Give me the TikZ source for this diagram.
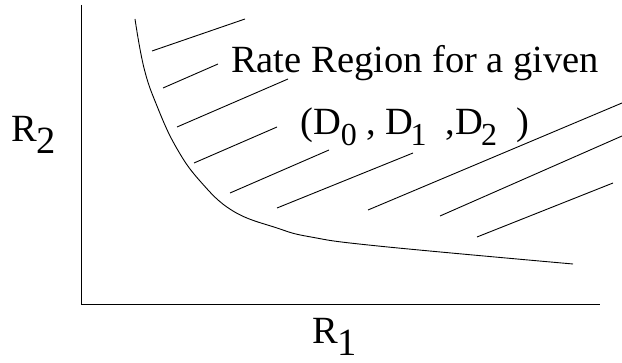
\documentclass[tikz,border=0pt]{standalone}
\usepackage{fontspec}
\setmainfont{Liberation Serif}
\usepackage{tikz}
\usetikzlibrary{positioning}
\newcommand{\lowidx}[1]{\raisebox{-11pt}{\fontsize{32}{32}\selectfont #1}}

\begin{document}
\begin{tikzpicture}[
  x=1pt, y=-1pt,
  axis/.style={line width=1pt},
  bound/.style={line width=0.9pt},
  hatch/.style={line width=0.9pt},
  lbl/.style={font=\fontsize{38.5}{42}\selectfont, anchor=base west, inner sep=0pt}]
\useasboundingbox (0,0) rectangle (622,363);
% ---- axes
\coordinate (ytop) at (81,5);
\coordinate (origin) at (81,305);
\coordinate (xend) at (600,305);
\draw[axis] (ytop) -- (origin) -- (xend);
\node[lbl] (rtwo) at (11,142) {R\raisebox{-12pt}{2}};
\node[lbl] (rone) at (312,344) {R\raisebox{-12pt}{1}};
% ---- boundary of the region
\draw[bound] plot[smooth, tension=0.7] coordinates {(135,19) (144,68) (157,106) (176,147) (200,181) (233,211) (277,228) (311,237) (378,246) (573,264)};
% ---- hatching
\draw[hatch] (152,51) -- (245,19);
\draw[hatch] (163,88) -- (218,64);
\draw[hatch] (177,127) -- (288,79);
\draw[hatch] (194,163) -- (277,127);
\draw[hatch] (230,193) -- (329,150);
\draw[hatch] (277,208) -- (413,153);
\draw[hatch] (368,210) -- (622,103);
\draw[hatch] (440,216) -- (622,136);
\draw[hatch] (477,237) -- (613,183);
% ---- label
\node[lbl] (rate) at (231,73) {Rate Region for a given};
\node[lbl] (dtriple) at (300,135) {(D\lowidx{0} , D\kern-3pt\lowidx{1}\ \ ,D\kern-2pt\lowidx{2}\ \ )};
\end{tikzpicture}
\end{document}
